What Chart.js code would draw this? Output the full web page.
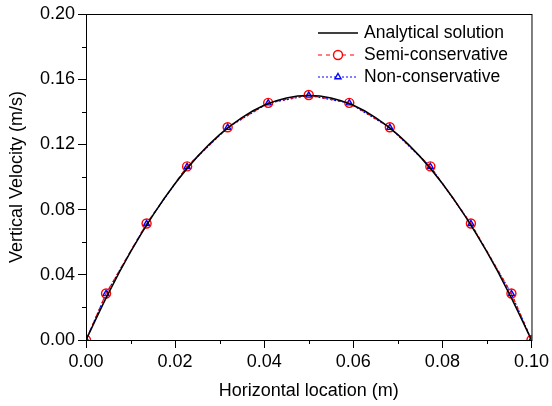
<!DOCTYPE html>
<html>
<head>
<meta charset="utf-8">
<script src="https://cdn.jsdelivr.net/npm/chart.js@4.4.1/dist/chart.umd.min.js"></script>
<style>
  html, body { margin: 0; padding: 0; background: #fff; }
  #wrap { width: 552px; height: 406px; }
</style>
</head>
<body>
<div id="wrap"><canvas id="velocityChart" width="552" height="406"></canvas></div>
<script>
// --- Data ---
const analyticalX = [0, 0.005, 0.01, 0.015, 0.02, 0.025, 0.03, 0.035, 0.04, 0.045, 0.05,
                     0.055, 0.06, 0.065, 0.07, 0.075, 0.08, 0.085, 0.09, 0.095, 0.1];
const analyticalY = [0, 0.0285, 0.054, 0.0765, 0.096, 0.1125, 0.126, 0.1365, 0.144, 0.1485, 0.150,
                     0.1485, 0.144, 0.1365, 0.126, 0.1125, 0.096, 0.0765, 0.054, 0.0285, 0];

const sampleX = [0, 0.0045, 0.0136, 0.0227, 0.0318, 0.0409, 0.05, 0.0591, 0.0682, 0.0773, 0.0864, 0.0955, 0.1];
const semiConservativeY = [0, 0.0285, 0.0715, 0.1065, 0.1305, 0.1455, 0.1503, 0.1455, 0.1305, 0.1065, 0.0715, 0.0285, 0];
const nonConservativeY  = [0, 0.0283, 0.0713, 0.1063, 0.1303, 0.1453, 0.1501, 0.1453, 0.1303, 0.1063, 0.0713, 0.0283, 0];

const seriesLabels = ['Analytical solution', 'Semi-conservative', 'Non-conservative'];

const FONT = "'Liberation Sans', Arial, sans-serif";

function toPoints(xs, ys) {
    return xs.map((x, i) => ({ x: x, y: ys[i] }));
}

function isMajor(value, every) {
    return Math.round(value * 100) % every === 0;
}

// --- Frame, minor ticks and in-plot legend ---
const framePlugin = {
    id: 'frame',
    afterDraw(chart) {
        const { ctx, chartArea: a, scales } = chart;
        ctx.save();
        ctx.strokeStyle = '#000';
        ctx.lineWidth = 1;
        ctx.strokeRect(a.left + 0.5, a.top + 0.5, a.right - a.left, a.bottom - a.top);

        // minor ticks (shorter than the major ones)
        ctx.beginPath();
        for (let v = 0.01; v < 0.1; v += 0.02) {
            const px = Math.round(scales.x.getPixelForValue(v)) + 0.5;
            ctx.moveTo(px, a.bottom);
            ctx.lineTo(px, a.bottom + 4);
        }
        for (let v = 0.02; v < 0.2; v += 0.04) {
            const py = Math.round(scales.y.getPixelForValue(v)) + 0.5;
            ctx.moveTo(a.left, py);
            ctx.lineTo(a.left - 4, py);
        }
        ctx.stroke();

        // legend
        const rows = [33, 55, 77];
        const x0 = 318, x1 = 358, tx = 364;
        ctx.font = '17.5px ' + FONT;
        ctx.textBaseline = 'middle';
        chart.data.datasets.forEach((ds, i) => {
            const y = rows[i];
            ctx.strokeStyle = ds.borderColor;
            ctx.lineWidth = ds.borderWidth;
            ctx.setLineDash(ds.borderDash || []);
            ctx.beginPath();
            ctx.moveTo(x0, y);
            ctx.lineTo(x1, y);
            ctx.stroke();
            ctx.setLineDash([]);
            if (ds.pointRadius > 0) {
                // drawPoint fills with the current fillStyle, then strokes
                ctx.fillStyle = '#fff';
                ctx.strokeStyle = ds.pointBorderColor;
                ctx.lineWidth = ds.pointBorderWidth;
                Chart.helpers.drawPoint(ctx, {
                    pointStyle: ds.pointStyle,
                    radius: ds.pointRadius,
                    borderWidth: ds.pointBorderWidth
                }, (x0 + x1) / 2, y);
            }
            ctx.fillStyle = '#000';
            ctx.fillText(ds.label, tx, y);
        });
        ctx.restore();
    }
};

const canvas = document.getElementById('velocityChart');
new Chart(canvas.getContext('2d'), {
    type: 'scatter',
    data: {
        datasets: [{
            label: seriesLabels[0],
            data: toPoints(analyticalX, analyticalY),
            showLine: true,
            borderColor: '#000',
            borderWidth: 1.5,
            pointRadius: 0,
            tension: 0.4
        }, {
            label: seriesLabels[1],
            data: toPoints(sampleX, semiConservativeY),
            showLine: true,
            borderColor: '#ff0000',
            borderWidth: 1.2,
            borderDash: [4, 4],
            pointStyle: 'circle',
            pointRadius: 4.5,
            pointBorderColor: '#ff0000',
            pointBackgroundColor: 'rgba(0,0,0,0)',
            pointBorderWidth: 1.4
        }, {
            label: seriesLabels[2],
            data: toPoints(sampleX, nonConservativeY),
            showLine: true,
            borderColor: '#0000ff',
            borderWidth: 1.2,
            borderDash: [2, 2],
            pointStyle: 'triangle',
            pointRadius: 3.5,
            pointBorderColor: '#0000ff',
            pointBackgroundColor: 'rgba(0,0,0,0)',
            pointBorderWidth: 1.4
        }]
    },
    options: {
        responsive: false,
        animation: false,
        layout: { padding: { top: 14, right: 20, left: 0, bottom: 0 } },
        plugins: {
            legend: { display: false },
            tooltip: { enabled: false }
        },
        scales: {
            x: {
                type: 'linear',
                min: 0,
                max: 0.1,
                afterFit: (scale) => { scale.height = 66; },
                border: { display: true, color: '#000', width: 1 },
                grid: {
                    drawOnChartArea: false,
                    drawTicks: true,
                    tickLength: 8,
                    color: (c) => (c.tick && isMajor(c.tick.value, 2)) ? '#000' : 'rgba(0,0,0,0)'
                },
                ticks: {
                    stepSize: 0.01,
                    autoSkip: false,
                    maxRotation: 0,
                    padding: 3,
                    color: '#000',
                    font: { family: FONT, size: 18 },
                    callback: (v) => isMajor(v, 2) ? v.toFixed(2) : ''
                },
                title: {
                    display: true,
                    text: 'Horizontal location (m)',
                    color: '#000',
                    font: { family: FONT, size: 18 },
                    padding: { top: 4, bottom: 4 }
                }
            },
            y: {
                type: 'linear',
                min: 0,
                max: 0.2,
                afterFit: (scale) => { scale.width = 86; },
                border: { display: true, color: '#000', width: 1 },
                grid: {
                    drawOnChartArea: false,
                    drawTicks: true,
                    tickLength: 8,
                    color: (c) => (c.tick && isMajor(c.tick.value, 4)) ? '#000' : 'rgba(0,0,0,0)'
                },
                ticks: {
                    stepSize: 0.02,
                    autoSkip: false,
                    padding: 3,
                    color: '#000',
                    font: { family: FONT, size: 18 },
                    callback: (v) => isMajor(v, 4) ? v.toFixed(2) : ''
                },
                title: {
                    display: true,
                    text: 'Vertical Velocity (m/s)',
                    color: '#000',
                    font: { family: FONT, size: 18 },
                    padding: { top: 6, bottom: 4 }
                }
            }
        }
    },
    plugins: [framePlugin]
});
</script>
</body>
</html>
